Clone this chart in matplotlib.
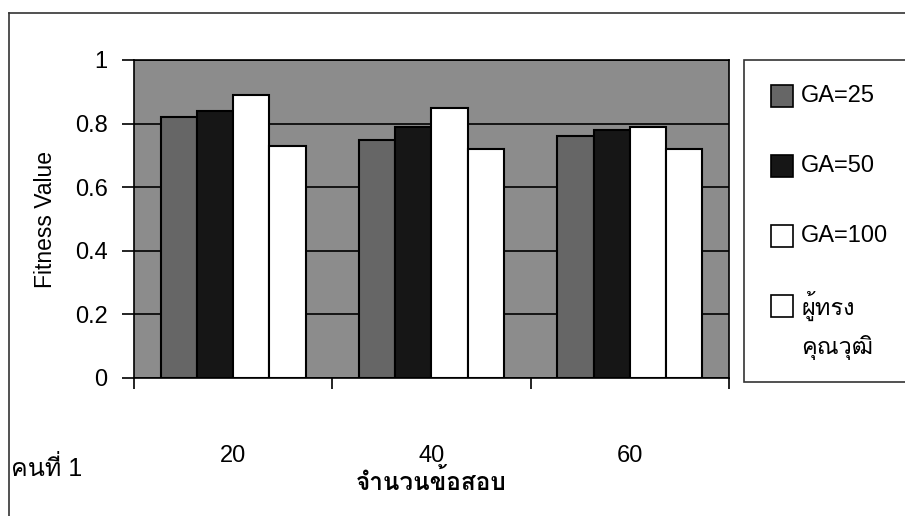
import numpy as np
import matplotlib
matplotlib.use('Agg')
import matplotlib.pyplot as plt
from matplotlib import font_manager
from matplotlib.ft2font import FT2Font
from matplotlib.patches import Rectangle
from matplotlib.lines import Line2D

# Fitness values for each number of test items
categories = ['20', '40', '60']
series_names = ['GA=25', 'GA=50', 'GA=100', 'ผู้ทรง\nคุณวุฒิ']
ga25 = [0.82, 0.75, 0.76]
ga50 = [0.84, 0.79, 0.78]
ga100 = [0.89, 0.85, 0.79]
expert = [0.73, 0.72, 0.72]
y_ticks = [0, 0.2, 0.4, 0.6, 0.8, 1.0]
y_tick_labels = ['0', '0.2', '0.4', '0.6', '0.8', '1']


def find_thai_family():
    # pick any installed font that has Thai glyphs
    for f in font_manager.fontManager.ttflist:
        try:
            if ord('ค') in FT2Font(f.fname).get_charmap():
                return f.name
        except Exception:
            pass
    return None


thai = find_thai_family()
families = ['Liberation Sans']
if thai:
    families.append(thai)
families.append('DejaVu Sans')
plt.rcParams['font.family'] = families

W, H = 905, 516
fig = plt.figure(figsize=(W / 100, H / 100), dpi=100)


def fx(px):
    return px / W


def fy(py):
    return 1 - py / H


ax = fig.add_axes([fx(134), fy(378), fx(729 - 134), (378 - 60) / H])
ax.set_facecolor('#8c8c8c')

colors = ['#666666', '#161616', 'white', 'white']
values = [ga25, ga50, ga100, expert]
x = np.arange(len(categories))
width = 0.183
for i, (vals, col) in enumerate(zip(values, colors)):
    ax.bar(x + (i - 1.5) * width, vals, width, color=col,
           edgecolor='black', linewidth=1.5, zorder=3)

ax.set_xlim(-0.5, 2.5)
ax.set_ylim(0, 1)
ax.set_yticks(y_ticks)
ax.set_yticklabels(y_tick_labels, fontsize=17)
ax.tick_params(axis='y', direction='out', length=9, width=1.2, pad=10)
ax.yaxis.grid(True, color='black', linewidth=1.2)
ax.set_axisbelow(True)

# tick marks between groups, labels at group centres
ax.set_xticks([-0.5, 0.5, 1.5, 2.5])
ax.set_xticklabels([])
ax.set_xticks(x, minor=True)
ax.set_xticklabels(categories, minor=True, fontsize=17)
ax.tick_params(axis='x', which='major', direction='out', length=8, width=1.2)
ax.tick_params(axis='x', which='minor', length=0, pad=48)

for s in ax.spines.values():
    s.set_color('black')
    s.set_linewidth(1.2)

ax.set_ylabel('Fitness Value', fontsize=16.5)
ax.yaxis.set_label_coords((57 - 134) / (729 - 134), 0.5)
fig.text(fx(431), fy(482), 'จำนวนข้อสอบ', fontsize=17.5, fontweight='bold',
         ha='center', va='center')
fig.text(fx(11), fy(468), 'คนที่ 1', fontsize=18, ha='left', va='center')

# outer chart frame (top and left edges visible)
fig.add_artist(Line2D([fx(9), fx(905)], [fy(13), fy(13)], color='#333333', lw=1.2))
fig.add_artist(Line2D([fx(9), fx(9)], [fy(13), fy(516)], color='#333333', lw=1.2))

# legend box
fig.add_artist(Rectangle((fx(744), fy(382)), fx(200), (382 - 60) / H,
                         facecolor='white', edgecolor='#333333', lw=1.2))
legend_y = [96, 166, 236, 306]
for name, col, ly in zip(series_names, colors, legend_y):
    fig.add_artist(Rectangle((fx(771), fy(ly + 11)), fx(22), 22 / H,
                             facecolor=col, edgecolor='black', lw=1.2))
    if '\n' in name:
        first, second = name.split('\n')
        fig.text(fx(801), fy(ly), first, fontsize=17, va='center', ha='left')
        fig.text(fx(801), fy(ly + 42), second, fontsize=17, va='center', ha='left')
    else:
        fig.text(fx(801), fy(ly), name, fontsize=17, va='center', ha='left')

fig.savefig('out.png', dpi=100)
